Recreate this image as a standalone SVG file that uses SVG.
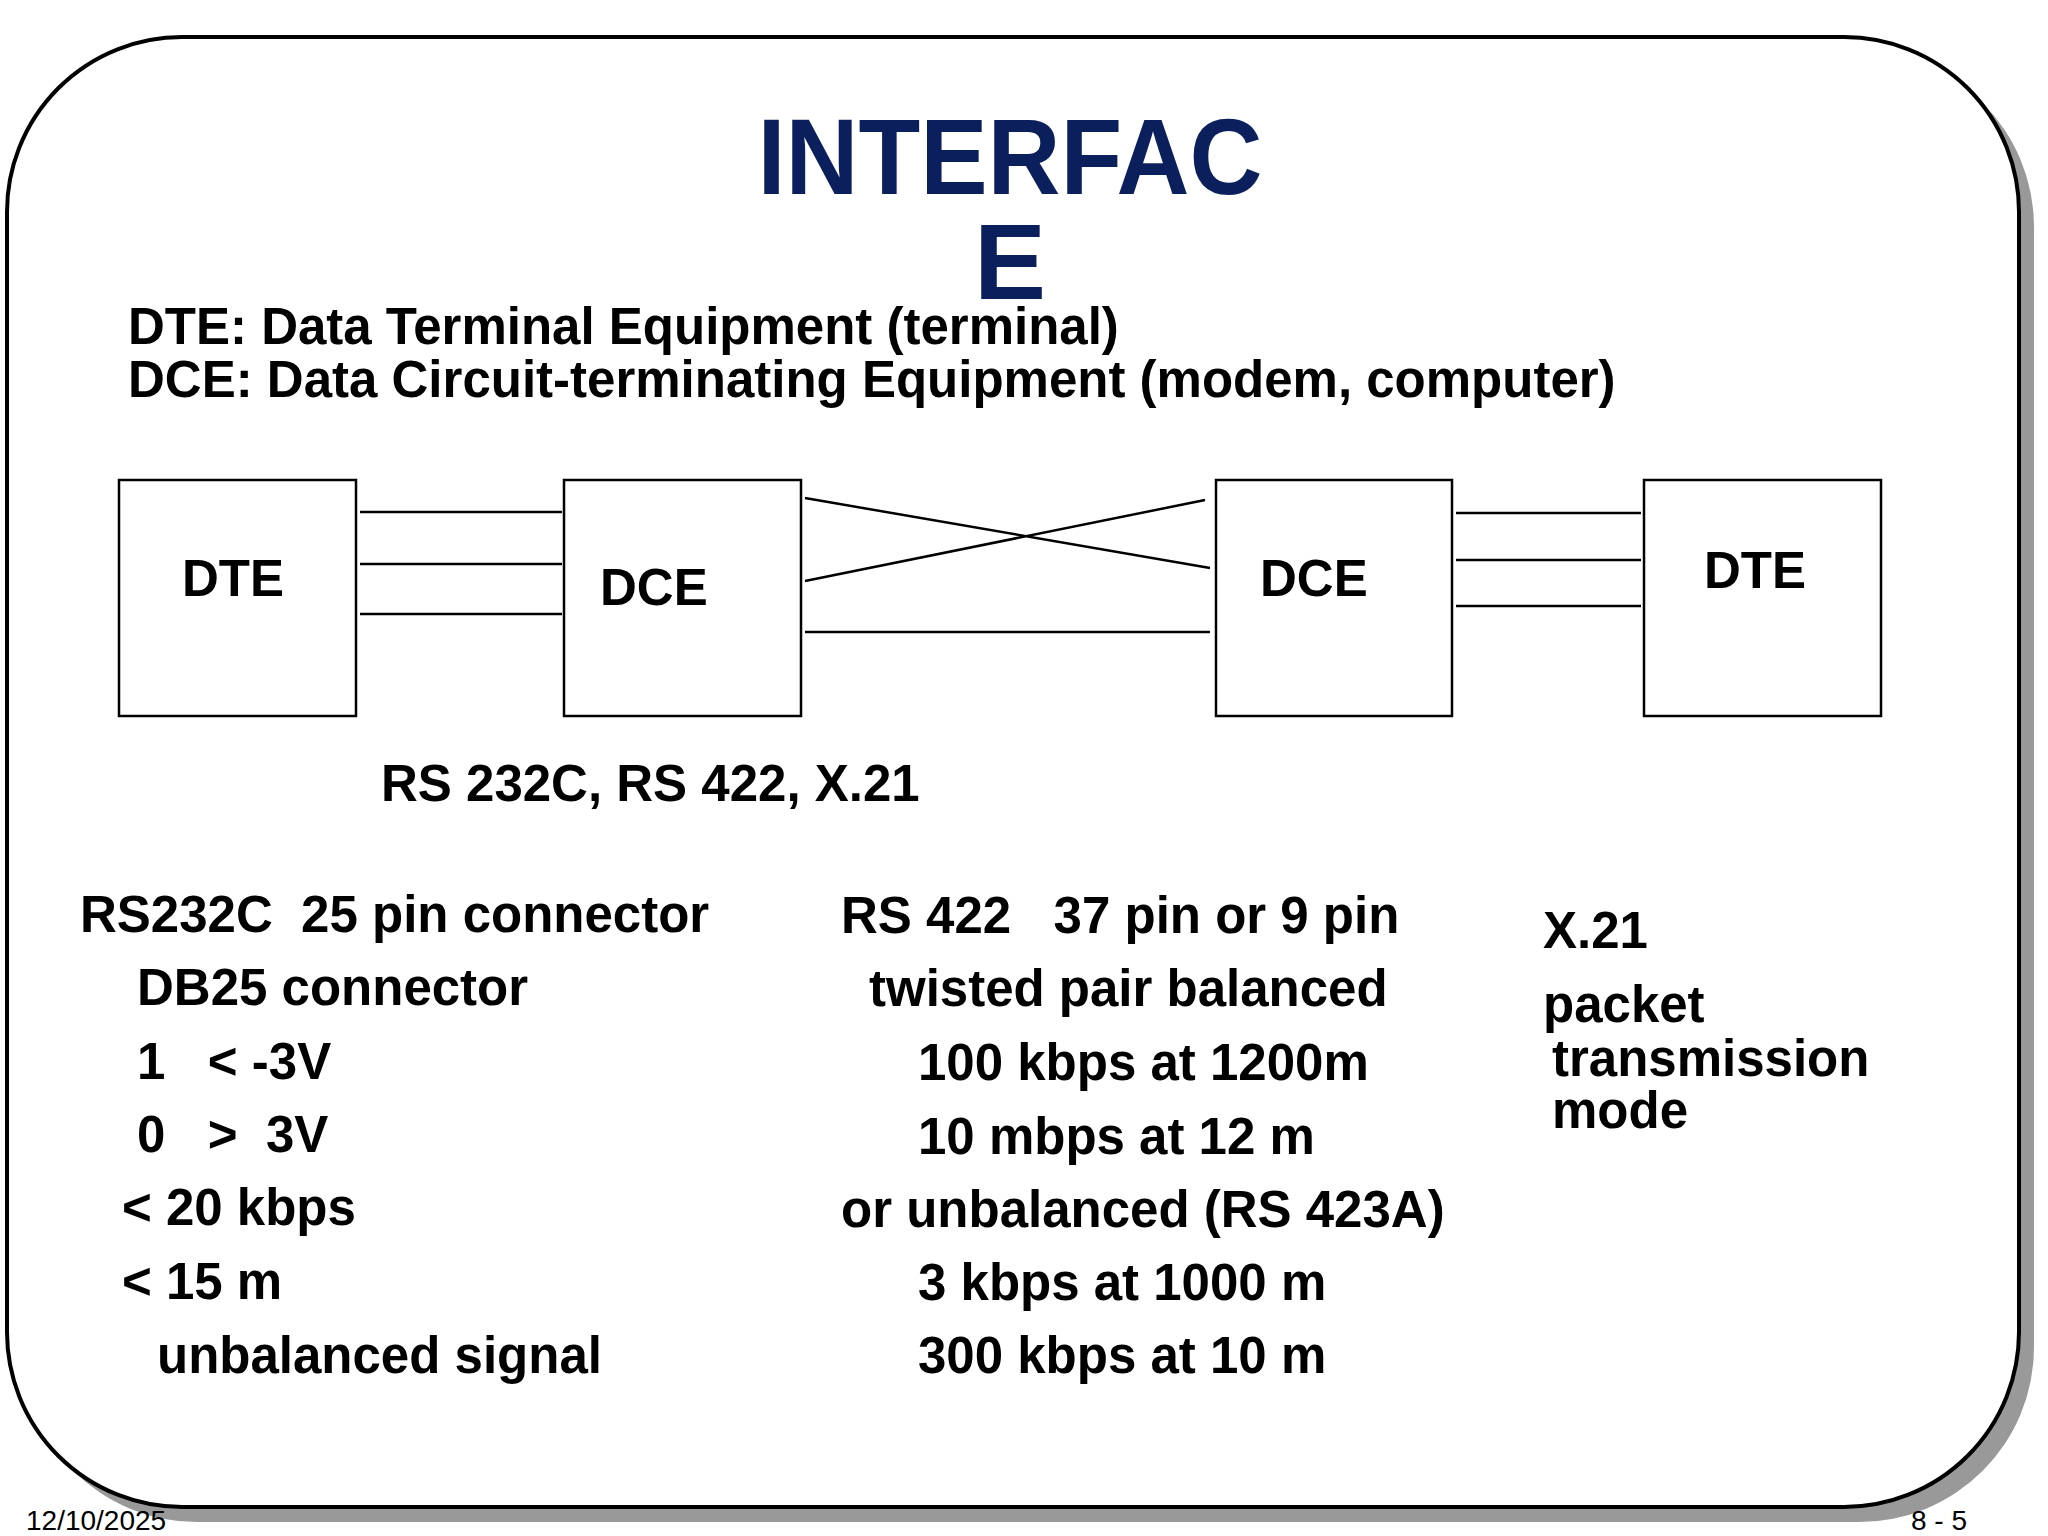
<svg xmlns="http://www.w3.org/2000/svg" width="2048" height="1536" viewBox="0 0 2048 1536">
<style>
text{font-family:"Liberation Sans",Arial,sans-serif;font-weight:bold;fill:#000;white-space:pre}
.b{font-size:51px}
.n{font-size:51px}
.box{fill:#fff;stroke:#000;stroke-width:2.5}
.ln{stroke:#000;stroke-width:2.5;fill:none}
.f{font-size:28px;font-weight:normal}
</style>
<rect width="2048" height="1536" fill="#fff"/>
<rect x="22" y="52" width="2012" height="1470" rx="175" fill="#999"/>
<rect x="7" y="37" width="2012" height="1470" rx="175" fill="#fff" stroke="#000" stroke-width="4"/>
<text x="1010" y="194" text-anchor="middle" textLength="505" lengthAdjust="spacingAndGlyphs" style="font-size:108px;fill:#0b1f5c">INTERFAC</text>
<text x="1010" y="299" text-anchor="middle" style="font-size:108px;fill:#0b1f5c">E</text>
<text class="b" x="128" y="344">DTE: Data Terminal Equipment (terminal)</text>
<text class="b" x="128" y="397">DCE: Data Circuit-terminating Equipment (modem, computer)</text>
<g id="dte1"><rect class="box" x="119" y="480" width="237" height="236"/><text class="n" x="182" y="596">DTE</text></g>
<g id="dce1"><rect class="box" x="564" y="480" width="237" height="236"/><text class="n" x="600" y="605">DCE</text></g>
<g id="dce2"><rect class="box" x="1216" y="480" width="236" height="236"/><text class="n" x="1260" y="596">DCE</text></g>
<g id="dte2"><rect class="box" x="1644" y="480" width="237" height="236"/><text class="n" x="1704" y="588">DTE</text></g>
<g id="connectors">
<path class="ln" d="M360 512H562M360 564H562M360 614H562M805 498L1210 568M805 581L1205 500M805 632H1210M1456 513H1641M1456 560H1641M1456 606H1641"/>
</g>
<text class="b" x="381" y="801">RS 232C, RS 422, X.21</text>
<g id="text-columns">
<text class="b" x="80" y="932">RS232C  25 pin connector</text>
<text class="b" x="137" y="1005">DB25 connector</text>
<text class="b" x="137" y="1079">1   &lt; -3V</text>
<text class="b" x="137" y="1152">0   &gt;  3V</text>
<text class="b" x="122" y="1225">&lt; 20 kbps</text>
<text class="b" x="122" y="1299">&lt; 15 m</text>
<text class="b" x="157" y="1373">unbalanced signal</text>
<text class="b" x="841" y="933">RS 422   37 pin or 9 pin</text>
<text class="b" x="869" y="1006">twisted pair balanced</text>
<text class="b" x="918" y="1080">100 kbps at 1200m</text>
<text class="b" x="918" y="1154">10 mbps at 12 m</text>
<text class="b" x="841" y="1227">or unbalanced (RS 423A)</text>
<text class="b" x="918" y="1300">3 kbps at 1000 m</text>
<text class="b" x="918" y="1373">300 kbps at 10 m</text>
<text class="b" x="1543" y="948">X.21</text>
<text class="b" x="1543" y="1022">packet</text>
<text class="b" x="1552" y="1076">transmission</text>
<text class="b" x="1552" y="1128">mode</text>
</g>
<text class="f" x="26" y="1530">12/10/2025</text>
<text class="f" x="1967" y="1530" text-anchor="end">8 - 5</text>
</svg>
